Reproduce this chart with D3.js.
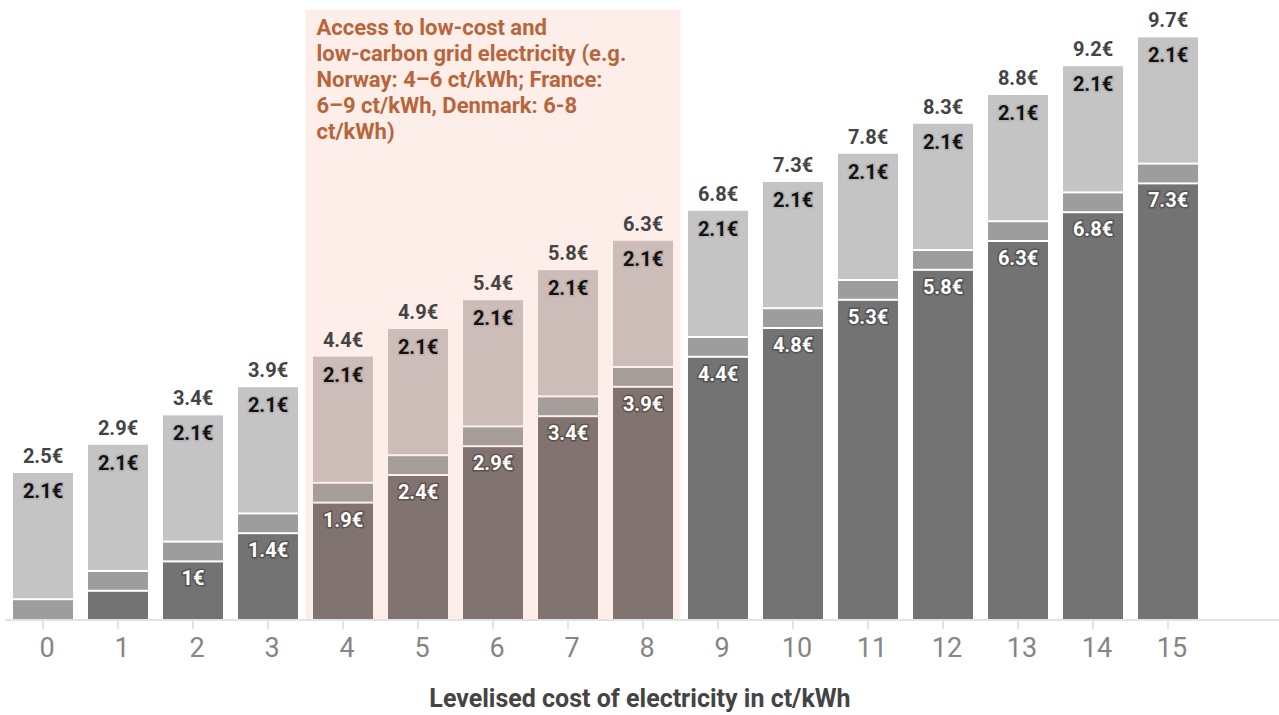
<!DOCTYPE html>
<html>
<head>
<meta charset="utf-8">
<script src="https://cdn.jsdelivr.net/npm/d3@7"></script>
<style>
  body { margin: 0; background: #fff; font-family: Roboto, "Noto Sans", sans-serif; }
  svg { display: block; }
</style>
</head>
<body>
<svg id="chart" width="1279" height="715"></svg>
<script>
// levelised cost of electricity, ct/kWh
var categories = [0, 1, 2, 3, 4, 5, 6, 7, 8, 9, 10, 11, 12, 13, 14, 15];
// electricity part of the cost (dark segment)
var electricityCost = [0, 0.47, 0.96, 1.43, 1.94, 2.4, 2.88, 3.38, 3.87, 4.37, 4.85, 5.32, 5.82, 6.3, 6.78, 7.26];
// middle segment
var otherCost = [0.33, 0.33, 0.33, 0.33, 0.33, 0.33, 0.33, 0.33, 0.33, 0.33, 0.33, 0.33, 0.33, 0.33, 0.33, 0.33];
// top segment
var fixedCost = [2.12, 2.12, 2.12, 2.12, 2.12, 2.12, 2.12, 2.12, 2.12, 2.12, 2.12, 2.12, 2.12, 2.12, 2.12, 2.12];
var totalLabels = ["2.5€", "2.9€", "3.4€", "3.9€", "4.4€", "4.9€", "5.4€", "5.8€", "6.3€", "6.8€", "7.3€", "7.8€", "8.3€", "8.8€", "9.2€", "9.7€"];
var electricityLabels = ["", "", "1€", "1.4€", "1.9€", "2.4€", "2.9€", "3.4€", "3.9€", "4.4€", "4.8€", "5.3€", "5.8€", "6.3€", "6.8€", "7.3€"];
var fixedLabels = ["2.1€", "2.1€", "2.1€", "2.1€", "2.1€", "2.1€", "2.1€", "2.1€", "2.1€", "2.1€", "2.1€", "2.1€", "2.1€", "2.1€", "2.1€", "2.1€"];
var highlighted = [4, 5, 6, 7, 8];
var noteLines = ["Access to low-cost and", "low-carbon grid electricity (e.g.", "Norway: 4–6 ct/kWh; France:", "6–9 ct/kWh, Denmark: 6-8", "ct/kWh)"];
var axisTitle = "Levelised cost of electricity in ct/kWh";

var colors = { dark: "#737373", mid: "#9d9d9d", light: "#c4c4c4" };
var colorsHi = { dark: "#817370", mid: "#a59d9a", light: "#cdbdb9" };

var svg = d3.select("#chart");
var baseY = 620;

var x = d3.scaleBand()
    .domain(categories)
    .range([5.5, 5.5 + 75 * 16])
    .paddingInner(0.2)
    .paddingOuter(0.1);

var y = d3.scaleLinear().domain([0, 10]).range([baseY, 20]);

// highlight box behind bars 4-8
var gap = x.step() - x.bandwidth();
var boxX0 = x(highlighted[0]) - gap / 2;
var boxX1 = x(highlighted[highlighted.length - 1]) + x.bandwidth() + gap / 2;
svg.append("rect")
    .attr("x", boxX0)
    .attr("y", 10)
    .attr("width", boxX1 - boxX0)
    .attr("height", baseY - 10)
    .attr("fill", "#fdeee9");

svg.append("g")
    .attr("font-size", 22)
    .attr("font-weight", 700)
    .attr("fill", "#b8653c")
    .selectAll("text")
    .data(noteLines)
    .join("text")
    .attr("x", boxX0 + 11)
    .attr("y", function (d, i) { return 35 + i * 26; })
    .text(function (d) { return d; });

// stacked data
var rows = categories.map(function (c, i) {
    var hi = highlighted.indexOf(c) >= 0;
    var pal = hi ? colorsHi : colors;
    var e = electricityCost[i], o = otherCost[i], f = fixedCost[i];
    return {
        cat: c, hi: hi, i: i, e: e,
        segs: [
            { y0: 0, y1: e, color: pal.dark },
            { y0: e, y1: e + o, color: pal.mid },
            { y0: e + o, y1: e + o + f, color: pal.light }
        ],
        top: e + o + f
    };
});

var bars = svg.append("g").selectAll("g").data(rows).join("g")
    .attr("transform", function (d) { return "translate(" + x(d.cat) + ",0)"; });

// 2px white gap under every segment that does not sit on the baseline
bars.selectAll("rect")
    .data(function (d) { return d.segs.filter(function (s) { return s.y1 > s.y0; }); })
    .join("rect")
    .attr("x", 0)
    .attr("y", function (s) { return y(s.y1); })
    .attr("width", x.bandwidth())
    .attr("height", function (s) { return Math.max(0, y(s.y0) - y(s.y1) - (s.y0 === 0 ? 0 : 2)); })
    .attr("fill", function (s) { return s.color; });

// total labels
bars.append("text")
    .attr("x", x.bandwidth() / 2)
    .attr("y", function (d) { return y(d.top) - 10; })
    .attr("text-anchor", "middle")
    .attr("font-size", 20)
    .attr("font-weight", 700)
    .attr("fill", "#444")
    .text(function (d) { return totalLabels[d.i]; });

// top segment labels (dark text, light halo)
bars.append("text")
    .attr("x", x.bandwidth() / 2)
    .attr("y", function (d) { return y(d.top) + 25; })
    .attr("text-anchor", "middle")
    .attr("font-size", 20)
    .attr("font-weight", 700)
    .attr("fill", "#111")
    .attr("stroke", function (d) { return d.hi ? "#bfaeaa" : "#b5b5b5"; })
    .attr("stroke-width", 3)
    .attr("paint-order", "stroke")
    .text(function (d) { return fixedLabels[d.i]; });

// electricity labels (white text, dark halo)
bars.append("text")
    .attr("x", x.bandwidth() / 2)
    .attr("y", function (d) { return y(d.e) + 23; })
    .attr("text-anchor", "middle")
    .attr("font-size", 20)
    .attr("font-weight", 700)
    .attr("fill", "#fff")
    .attr("stroke", function (d) { return d.hi ? "#5e514e" : "#545454"; })
    .attr("stroke-width", 3)
    .attr("paint-order", "stroke")
    .text(function (d) { return electricityLabels[d.i]; });

// x axis
var axis = svg.append("g")
    .attr("transform", "translate(0," + baseY + ")")
    .call(d3.axisBottom(x).tickSize(9).tickPadding(9));
axis.select(".domain").remove();
axis.insert("line", ":first-child")
    .attr("x1", 5).attr("x2", 1279)
    .attr("y1", 0).attr("y2", 0)
    .attr("stroke", "#e2e2e2")
    .attr("stroke-width", 2);
axis.selectAll(".tick line").attr("stroke", "#e2e2e2").attr("stroke-width", 2);
axis.selectAll(".tick text")
    .attr("dx", 4)
    .attr("font-family", "Roboto, sans-serif")
    .attr("font-size", 27)
    .attr("font-weight", 400)
    .attr("fill", "#858585");

svg.append("text")
    .attr("x", 640)
    .attr("y", 707)
    .attr("text-anchor", "middle")
    .attr("font-size", 25)
    .attr("font-weight", 700)
    .attr("fill", "#444")
    .text(axisTitle);
</script>
</body>
</html>
